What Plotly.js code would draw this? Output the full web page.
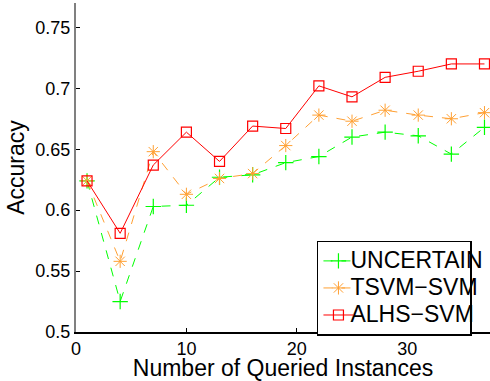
<!DOCTYPE html>
<html>
<head>
<meta charset="utf-8">
<script src="https://cdn.plot.ly/plotly-3.0.1.min.js"></script>
<style>
html,body{margin:0;padding:0;background:#fff;}
#chart{width:490px;height:381px;}
</style>
</head>
<body>
<div id="chart"></div>
<script>
var queried = [1, 4, 7, 10, 13, 16, 19, 22, 25, 28, 31, 34, 37];
var uncertain = [0.624, 0.525, 0.603, 0.604, 0.627, 0.629, 0.639, 0.644, 0.660, 0.664, 0.661, 0.646, 0.668];
var tsvmSvm   = [0.624, 0.558, 0.648, 0.613, 0.626, 0.630, 0.653, 0.678, 0.673, 0.682, 0.678, 0.675, 0.680];
var alhsSvm   = [0.624, 0.581, 0.637, 0.664, 0.640, 0.669, 0.667, 0.702, 0.693, 0.709, 0.714, 0.720, 0.720];
var seriesNames = ["UNCERTAIN", "TSVM\u2212SVM", "ALHS\u2212SVM"];
var yTickVals = [0.5, 0.55, 0.6, 0.65, 0.7, 0.75];
var yTickText = ["0.5", "0.55", "0.6", "0.65", "0.7", "0.75"];
var xTickVals = [0, 10, 20, 30];
var xTickText = ["0", "10", "20", "30"];

var font = "Liberation Sans, Arial, Helvetica, sans-serif";

var traces = [
  {x: queried, y: uncertain, name: seriesNames[0], type: "scatter", mode: "lines+markers",
   line: {color: "#00ff00", width: 1, dash: "dash"},
   marker: {symbol: "cross-thin-open", size: 11, color: "#00ff00", line: {color: "#00ff00", width: 1.2}}},
  {x: queried, y: tsvmSvm, name: seriesNames[1], type: "scatter", mode: "lines+markers",
   line: {color: "#ffa033", width: 1, dash: "dash"},
   marker: {symbol: "asterisk-open", size: 11, color: "#ffa033", line: {color: "#ffa033", width: 1}}},
  {x: queried, y: alhsSvm, name: seriesNames[2], type: "scatter", mode: "lines+markers",
   line: {color: "#ff0000", width: 1},
   marker: {symbol: "square-open", size: 10, color: "#ff0000", line: {color: "#ff0000", width: 1.2}}}
];

var layout = {
  width: 490, height: 381,
  margin: {l: 76, r: 0, t: 3, b: 49, autoexpand: false},
  paper_bgcolor: "#fff", plot_bgcolor: "#fff",
  font: {family: font, color: "#000", size: 18},
  showlegend: true,
  legend: {
    x: 0.582, y: 0.277, xanchor: "left", yanchor: "top",
    bgcolor: "#fff", bordercolor: "#000", borderwidth: 1.5,
    font: {family: font, size: 18.5, color: "#000"},
    itemwidth: 30, tracegroupgap: 0,
    entrywidth: 200, entrywidthmode: "pixels"
  },
  xaxis: {
    range: [0, 37.5], tickvals: xTickVals, ticktext: xTickText,
    ticks: "inside", ticklen: 4, tickcolor: "#000",
    showgrid: false, zeroline: false,
    showline: true, linecolor: "#000", linewidth: 1.5, mirror: false,
    tickfont: {family: font, size: 18},
    title: {text: "Number of Queried Instances", font: {family: font, size: 23}, standoff: 0}
  },
  yaxis: {
    range: [0.5, 0.77], tickvals: yTickVals, ticktext: yTickText,
    ticks: "inside", ticklen: 4, tickcolor: "#000",
    showgrid: false, zeroline: false,
    showline: true, linecolor: "#808080", linewidth: 2, mirror: false,
    tickfont: {family: font, size: 18},
    title: {text: "Accuracy", font: {family: font, size: 23}, standoff: 4}
  }
};

Plotly.newPlot("chart", traces, layout, {displayModeBar: false, staticPlot: true}).then(function (gd) {
  // enlarge legend labels to the reference's size while keeping the compact row spacing
  gd.querySelectorAll(".legend .legendtext").forEach(function (t) {
    t.style.fontSize = "23px";
    t.setAttribute("x", "32");
  });
  gd.querySelectorAll(".legend [clip-path]").forEach(function (n) {
    n.removeAttribute("clip-path");
  });
});
</script>
</body>
</html>
